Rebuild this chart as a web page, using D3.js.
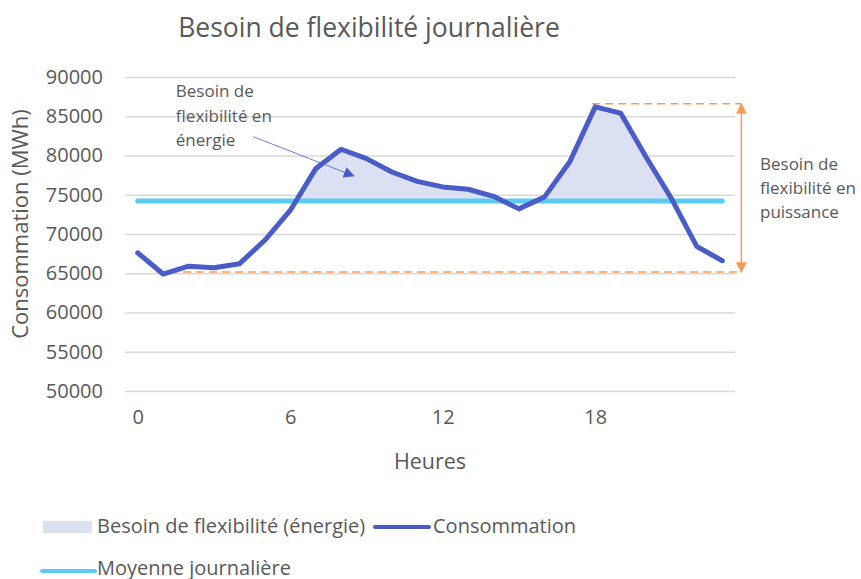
<!DOCTYPE html>
<html>
<head>
<meta charset="utf-8">
<script src="https://cdn.jsdelivr.net/npm/d3@7"></script>
<style>
    body { margin: 0; background: #fff; }
    text { font-family: "Open Sans", sans-serif; fill: #595959; }
</style>
</head>
<body>
<svg id="chart"></svg>
<script>
// hours of the day
var hours = d3.range(0, 24);
// hourly consumption (MWh)
var consommation = [67600, 64900, 65900, 65700, 66200, 69200, 73000, 78300,
    80800, 79600, 77900, 76700, 76000, 75700, 74800, 73200,
    74700, 79200, 86200, 85400, 79800, 74500, 68400, 66600];
// daily mean
var moyenne = 74200;
var yTicks = [50000, 55000, 60000, 65000, 70000, 75000, 80000, 85000, 90000];
var xTicks = [0, 6, 12, 18];

var titre = "Besoin de flexibilité journalière";
var noteEnergie = ["Besoin de", "flexibilité en", "énergie"];
var notePuissance = ["Besoin de", "flexibilité en", "puissance"];

var colors = {
    conso: "#4a5cc8",
    moyenne: "#5bcbf3",
    fill: "#dce0f3",
    orange: "#f89c55",
    grid: "#d9d9d9"
}

var screen = { width: 861, height: 579 }

var svg = d3.select("#chart")
    .attr("width", screen.width)
    .attr("height", screen.height)

var xScale = d3.scaleLinear()
    .domain([-0.5, 23.5])
    .range([125, 735])

var yScale = d3.scaleLinear()
    .domain([50000, 90000])
    .range([391, 77])

var defs = svg.append("defs")

var makeArrow = function (id, color, size) {
    defs.append("marker")
        .attr("id", id)
        .attr("viewBox", "0 0 10 10")
        .attr("refX", 9)
        .attr("refY", 5)
        .attr("markerWidth", size)
        .attr("markerHeight", size)
        .attr("markerUnits", "userSpaceOnUse")
        .attr("orient", "auto-start-reverse")
        .append("path")
        .attr("d", "M0,0 L10,5 L0,10 Z")
        .attr("fill", color)
}
makeArrow("arrowBlue", colors.conso, 11)
makeArrow("arrowOrange", colors.orange, 11)

// clip: only keep the part above the mean
defs.append("clipPath")
    .attr("id", "above")
    .append("rect")
    .attr("x", xScale(-0.5))
    .attr("y", 0)
    .attr("width", xScale(23.5) - xScale(-0.5))
    .attr("height", yScale(moyenne))

// title
svg.append("text")
    .text(titre)
    .attr("x", 369)
    .attr("y", 37)
    .attr("text-anchor", "middle")
    .style("font-size", "26.5px")

// grid lines + y labels
var yAxis = d3.axisLeft(yScale)
    .tickValues(yTicks)
    .tickSize(-(xScale(23.5) - xScale(-0.5)))
    .tickPadding(22)
    .tickFormat(d3.format("d"))

var yG = svg.append("g")
    .attr("transform", "translate(" + xScale(-0.5) + ",0)")
    .call(yAxis)
yG.select(".domain").remove()
yG.selectAll(".tick line")
    .attr("stroke", colors.grid)
    .attr("stroke-width", 1.5)
yG.selectAll(".tick text")
    .style("font-size", "20px")
    .style("font-family", "Open Sans")
    .attr("fill", "#595959")

// x labels
var xAxis = d3.axisBottom(xScale)
    .tickValues(xTicks)
    .tickSize(0)
    .tickPadding(19)
var xG = svg.append("g")
    .attr("transform", "translate(0," + yScale(50000) + ")")
    .call(xAxis)
xG.select(".domain").remove()
xG.selectAll(".tick text")
    .style("font-size", "20px")
    .style("font-family", "Open Sans")
    .attr("fill", "#595959")

// axis titles
svg.append("text")
    .text("Heures")
    .attr("x", xScale(11.5))
    .attr("y", 469)
    .attr("text-anchor", "middle")
    .style("font-size", "21.5px")

svg.append("text")
    .text("Consommation (MWh)")
    .attr("text-anchor", "middle")
    .attr("transform", "translate(28,224) rotate(-90)")
    .style("font-size", "22px")

// energy area between the curve and the mean
var points = hours.map(function (h, i) {
    return { hour: h, value: consommation[i] }
})

var area = d3.area()
    .x(function (d) { return xScale(d.hour) })
    .y0(yScale(moyenne))
    .y1(function (d) { return yScale(d.value) })

svg.append("path")
    .datum(points)
    .attr("d", area)
    .attr("fill", colors.fill)
    .attr("clip-path", "url(#above)")

// orange dashed levels
var maxVal = d3.max(consommation)
var minVal = d3.min(consommation)
var maxHour = hours[consommation.indexOf(maxVal)]
var minHour = hours[consommation.indexOf(minVal)]
var arrowHour = 23.75

svg.append("line")
    .attr("x1", xScale(maxHour) - 3)
    .attr("x2", xScale(arrowHour))
    .attr("y1", yScale(maxVal) - 3)
    .attr("y2", yScale(maxVal) - 3)
    .attr("stroke", colors.orange)
    .attr("stroke-width", 1.5)
    .attr("stroke-dasharray", "8,5")

svg.append("line")
    .attr("x1", xScale(minHour) - 6)
    .attr("x2", xScale(arrowHour))
    .attr("y1", yScale(minVal) - 2)
    .attr("y2", yScale(minVal) - 2)
    .attr("stroke", colors.orange)
    .attr("stroke-width", 1.5)
    .attr("stroke-dasharray", "8,5")

svg.append("line")
    .attr("x1", xScale(arrowHour))
    .attr("x2", xScale(arrowHour))
    .attr("y1", yScale(maxVal) - 3)
    .attr("y2", yScale(minVal) - 2)
    .attr("stroke", colors.orange)
    .attr("stroke-width", 1.5)
    .attr("marker-start", "url(#arrowOrange)")
    .attr("marker-end", "url(#arrowOrange)")

// mean line
svg.append("line")
    .attr("x1", xScale(0))
    .attr("x2", xScale(23))
    .attr("y1", yScale(moyenne))
    .attr("y2", yScale(moyenne))
    .attr("stroke", colors.moyenne)
    .attr("stroke-width", 5)
    .attr("stroke-linecap", "round")

// consumption line
var line = d3.line()
    .x(function (d) { return xScale(d.hour) })
    .y(function (d) { return yScale(d.value) })

svg.append("path")
    .datum(points)
    .attr("d", line)
    .attr("fill", "none")
    .attr("stroke", colors.conso)
    .attr("stroke-width", 5)
    .attr("stroke-linejoin", "round")
    .attr("stroke-linecap", "round")

// annotation: energy
var noteE = svg.append("text")
    .attr("x", xScale(1.5))
    .attr("y", 97)
    .style("font-size", "17px")
noteE.selectAll("tspan")
    .data(noteEnergie)
    .enter()
    .append("tspan")
    .attr("x", xScale(1.5))
    .attr("dy", function (d, i) { return i == 0 ? 0 : 24.5 })
    .text(function (d) { return d })

svg.append("line")
    .attr("x1", xScale(4.54))
    .attr("y1", yScale(82400))
    .attr("x2", xScale(8.5))
    .attr("y2", yScale(77400))
    .attr("stroke", colors.conso)
    .attr("stroke-width", 0.8)
    .attr("marker-end", "url(#arrowBlue)")

// annotation: power
var noteP = svg.append("text")
    .attr("x", 760)
    .attr("y", 170)
    .style("font-size", "17px")
noteP.selectAll("tspan")
    .data(notePuissance)
    .enter()
    .append("tspan")
    .attr("x", 760)
    .attr("dy", function (d, i) { return i == 0 ? 0 : 24 })
    .text(function (d) { return d })

// legend
var legend = svg.append("g").classed("legend", true)

legend.append("rect")
    .attr("x", 43)
    .attr("y", 521)
    .attr("width", 49)
    .attr("height", 12)
    .attr("fill", colors.fill)
legend.append("text")
    .text("Besoin de flexibilité (énergie)")
    .attr("x", 97)
    .attr("y", 533)
    .style("font-size", "20px")

legend.append("line")
    .attr("x1", 375).attr("x2", 429)
    .attr("y1", 527).attr("y2", 527)
    .attr("stroke", colors.conso)
    .attr("stroke-width", 4)
    .attr("stroke-linecap", "round")
legend.append("text")
    .text("Consommation")
    .attr("x", 433)
    .attr("y", 533)
    .style("font-size", "20px")

legend.append("line")
    .attr("x1", 42).attr("x2", 95)
    .attr("y1", 571).attr("y2", 571)
    .attr("stroke", colors.moyenne)
    .attr("stroke-width", 4)
    .attr("stroke-linecap", "round")
legend.append("text")
    .text("Moyenne journalière")
    .attr("x", 97)
    .attr("y", 575)
    .style("font-size", "20px")
</script>
</body>
</html>
